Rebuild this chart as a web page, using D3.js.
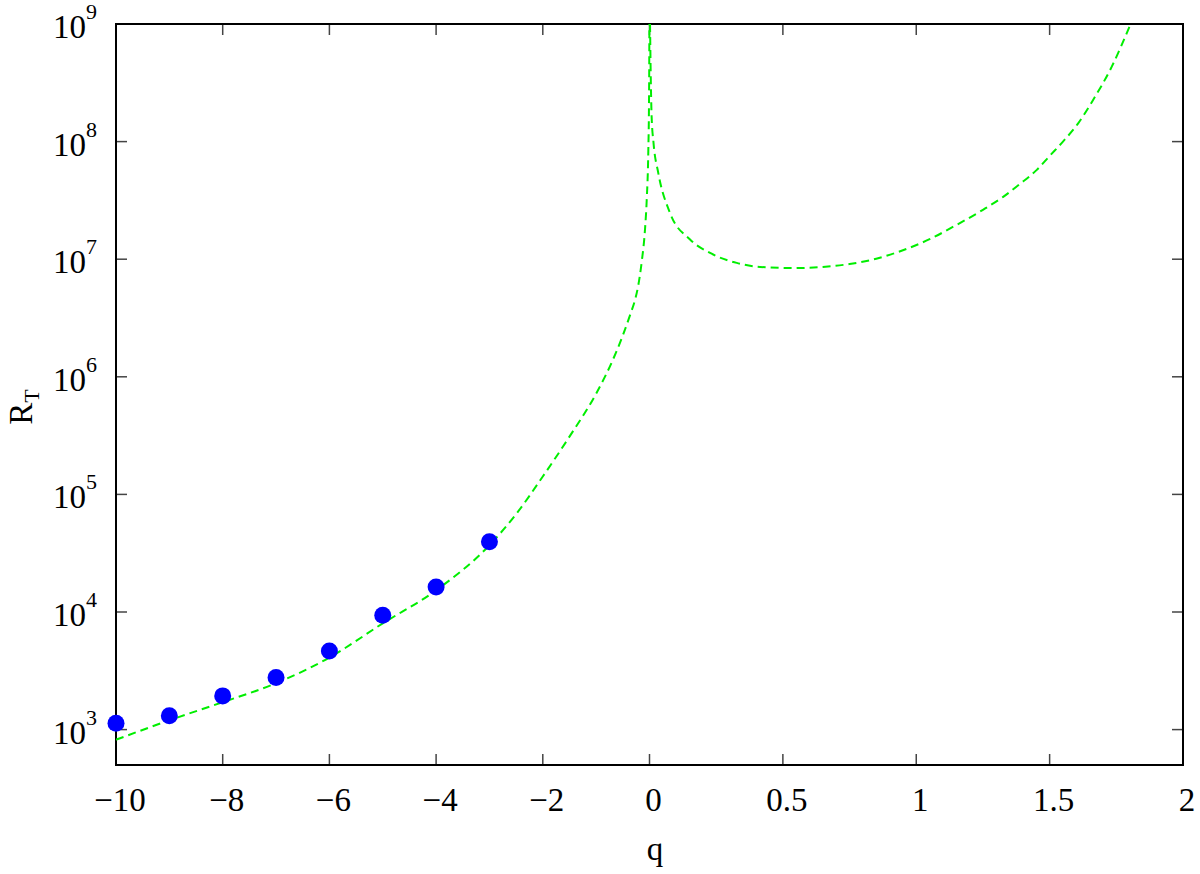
<!DOCTYPE html>
<html>
<head>
<meta charset="utf-8">
<script src="https://cdn.jsdelivr.net/npm/d3@7"></script>
<style>
  html, body { margin: 0; padding: 0; background: #fff; }
</style>
</head>
<body>
<svg id="chart" width="1200" height="874"></svg>
<script>
// ---- data ----
const pointQ = [-10, -9, -8, -7, -6, -5, -4, -3];
const pointR = [1130, 1310, 1935, 2775, 4670, 9380, 16300, 39600];

const leftQ = [-10, -9, -8, -7, -6, -5, -4, -3, -2.5, -2, -1.5, -1, -0.7, -0.5, -0.35, -0.272, -0.21, -0.146, -0.084, -0.052, -0.022, -0.01, -0.004, -0.002];
const leftR = [820, 1200, 1710, 2480, 4100, 8000, 15300, 37000, 6.8e4, 1.42e5, 3.1e5, 7.2e5, 1.35e6, 2.25e6, 3.5e6, 4.5e6, 6.0e6, 9.5e6, 1.8e7, 3.2e7, 8.5e7, 2.0e8, 5.5e8, 1e9];

const rightQ = [0.002, 0.004, 0.008, 0.015, 0.033, 0.077, 0.152, 0.227, 0.327, 0.414, 0.539, 0.65, 0.75, 0.85, 0.95, 1.05, 1.15, 1.25, 1.326, 1.389, 1.452, 1.501, 1.55, 1.607, 1.663, 1.733, 1.802];
const rightR = [1e9, 4.5e8, 1.63e8, 9.8e7, 5.4e7, 2.47e7, 1.47e7, 1.13e7, 9.3e6, 8.6e6, 8.4e6, 8.6e6, 9.1e6, 1.01e7, 1.19e7, 1.48e7, 1.95e7, 2.63e7, 3.39e7, 4.37e7, 5.75e7, 7.59e7, 1e8, 1.43e8, 2.26e8, 4.34e8, 9.8e8];

const xTicks = [-10, -8, -6, -4, -2, 0, 0.5, 1, 1.5, 2];
const xTickLabels = ["\u221210", "\u22128", "\u22126", "\u22124", "\u22122", "0", "0.5", "1", "1.5", "2"];
const yTicks = [1e3, 1e4, 1e5, 1e6, 1e7, 1e8, 1e9];
const yTickExp = ["3", "4", "5", "6", "7", "8", "9"];

// ---- layout ----
const FONT = "'Liberation Serif', 'Times New Roman', Times, 'Nimbus Roman', 'DejaVu Serif', serif";
const L = 116, R = 1183, T = 24, B = 765;
const svg = d3.select("#chart").attr("font-family", FONT);

const x = d3.scaleLinear().domain([-10, 0, 2]).range([L, 649.5, R]);
const y = d3.scaleLog().domain([500, 1e9]).range([B, T]);

svg.append("defs").append("clipPath").attr("id", "clip")
  .append("rect").attr("x", L).attr("y", T).attr("width", R - L).attr("height", B - T);

// ticks (inward, mirrored)
const tickLen = 11;
const tg = svg.append("g").attr("stroke", "#444").attr("stroke-width", 1.5);
xTicks.forEach(v => {
  tg.append("line").attr("x1", x(v)).attr("x2", x(v)).attr("y1", B).attr("y2", B - tickLen);
  tg.append("line").attr("x1", x(v)).attr("x2", x(v)).attr("y1", T).attr("y2", T + tickLen);
});
yTicks.forEach(v => {
  tg.append("line").attr("x1", L).attr("x2", L + tickLen).attr("y1", y(v)).attr("y2", y(v));
  tg.append("line").attr("x1", R).attr("x2", R - tickLen).attr("y1", y(v)).attr("y2", y(v));
});

// frame
svg.append("rect").attr("x", L).attr("y", T).attr("width", R - L).attr("height", B - T)
  .attr("fill", "none").attr("stroke", "#000").attr("stroke-width", 2);

// x tick labels
xTicks.forEach((v, i) => {
  svg.append("text").attr("x", x(v) + 4).attr("y", 811).attr("font-family", FONT)
    .attr("text-anchor", "middle").attr("font-size", 33).attr("fill", "#000").text(xTickLabels[i]);
});

// y tick labels
yTicks.forEach((v, i) => {
  const t = svg.append("text").attr("x", 97).attr("y", y(v) + 14).attr("font-family", FONT)
    .attr("text-anchor", "end").attr("font-size", 33).attr("fill", "#000");
  t.append("tspan").text("10");
  t.append("tspan").attr("dy", -19).attr("font-size", 22).text(yTickExp[i]);
});

// axis labels
svg.append("text").attr("x", 655).attr("y", 860).attr("text-anchor", "middle").attr("font-family", FONT)
  .attr("font-size", 33).attr("fill", "#000").text("q");
const yl = svg.append("text").attr("transform", "translate(32,407) rotate(-90)").attr("font-family", FONT)
  .attr("text-anchor", "middle").attr("font-size", 33).attr("fill", "#000");
yl.append("tspan").text("R");
yl.append("tspan").attr("dy", 7).attr("font-size", 22).text("T");

// curves
const line = d3.line().x(d => x(d[0])).y(d => y(d[1])).curve(d3.curveMonotoneX);
const cg = svg.append("g").attr("clip-path", "url(#clip)");
[[leftQ, leftR], [rightQ, rightR]].forEach(([qs, rs]) => {
  cg.append("path").datum(qs.map((q, i) => [q, rs[i]]))
    .attr("d", line).attr("fill", "none").attr("stroke", "#00ee00")
    .attr("stroke-width", 2).attr("stroke-dasharray", "8,5");
});

// points
svg.append("g").selectAll("circle").data(pointQ.map((q, i) => [q, pointR[i]]))
  .join("circle").attr("cx", d => x(d[0])).attr("cy", d => y(d[1])).attr("r", 8.5)
  .attr("fill", "#0000ff");
</script>
</body>
</html>
